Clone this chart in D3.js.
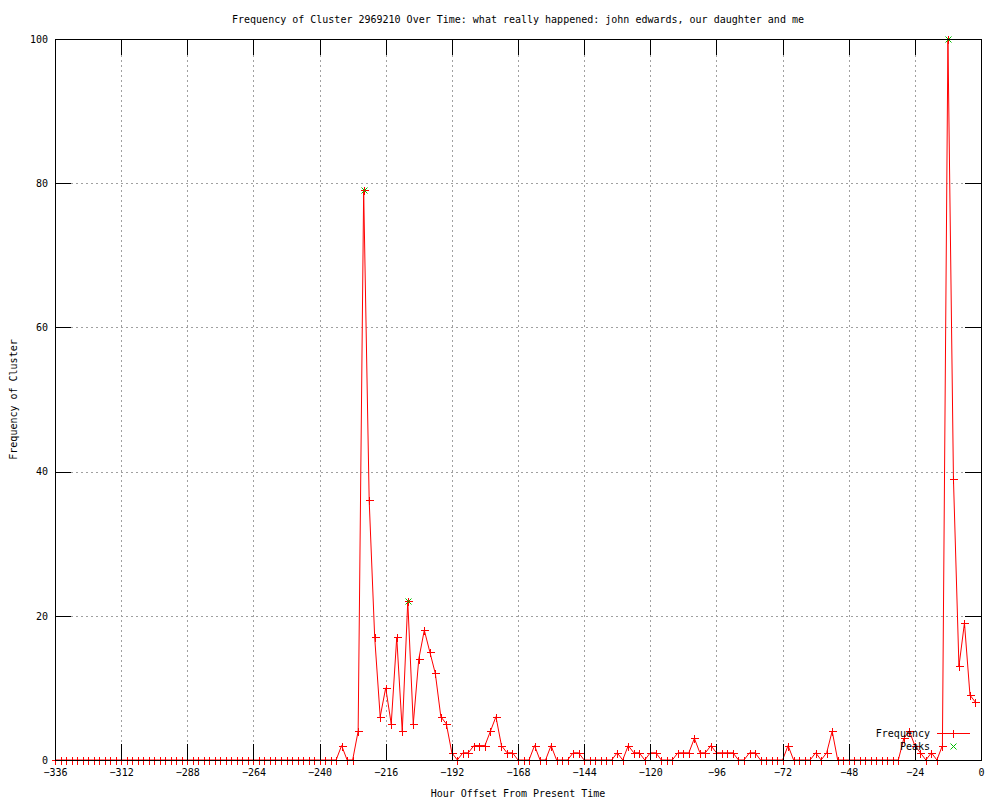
<!DOCTYPE html>
<html>
<head>
<meta charset="utf-8">
<script src="https://cdn.jsdelivr.net/npm/d3@7"></script>
<style>
  html, body { margin: 0; padding: 0; background: #fff; }
  svg text { font-family: "DejaVu Sans Mono", "Liberation Mono", monospace; font-size: 10px; fill: #000; }
</style>
</head>
<body>
<svg id="chart" width="1000" height="800"></svg>
<script>
// ---- data ----
const titleText = "Frequency of Cluster 2969210 Over Time: what really happened: john edwards, our daughter and me";
const xLabel = "Hour Offset From Present Time";
const yLabel = "Frequency of Cluster";
const xTicks = [-336, -312, -288, -264, -240, -216, -192, -168, -144, -120, -96, -72, -48, -24, 0];
const yTicks = [0, 20, 40, 60, 80, 100];
const hours = d3.range(-336, 0, 2);
const frequency = [
  0,0,0,0,0,0,0,0,0,0, 0,0,0,0,0,0,0,0,0,0,
  0,0,0,0,0,0,0,0,0,0, 0,0,0,0,0,0,0,0,0,0,
  0,0,0,0,0,0,0,0,0,0, 0,0,
  2,0,0,4,79,36,17,6,10,5,17,4,22,5,14,18,15,12,6,5,1,0,
  1,1,2,2,2,4,6,2,1,1,0,0,0,2,0,0,2,0,0,0,1,1,
  0,0,0,0,0,0,1,0,2,1,1,0,1,1,0,0,0,1,1,1,3,1,
  1,2,1,1,1,1,0,0,1,1,0,0,0,0,0,2,0,0,0,0,1,0,
  1,4,0,0,0,0,0,0,0,0,0,0,0,0,3,4,2,1,0,1,0,2,
  100,39,13,19,9,8
];
const peakHours = [-224, -208, -12];
const peakValues = [79, 22, 100];
const seriesNames = ["Frequency", "Peaks"];

// ---- layout ----
const L = 55, R = 981, T = 39, B = 760;
const red = "#ff0000", green = "#00c000", gridCol = "#a0a0a0";
const tickLen = 16;

const svg = d3.select("#chart");
const x = d3.scaleLinear().domain([-336, 0]).range([L, R]);
const y = d3.scaleLinear().domain([0, 100]).range([B, T]);

// grid
const grid = svg.append("g").attr("stroke", gridCol).attr("stroke-width", 1).attr("stroke-dasharray", "2,3").attr("shape-rendering", "crispEdges");
xTicks.filter(t => t !== -336 && t !== 0).forEach(t => {
  grid.append("line").attr("x1", Math.round(x(t)) + 0.5).attr("x2", Math.round(x(t)) + 0.5)
    .attr("y1", T + tickLen).attr("y2", B - tickLen);
});
yTicks.filter(t => t !== 0 && t !== 100).forEach(t => {
  grid.append("line").attr("y1", Math.round(y(t)) + 0.5).attr("y2", Math.round(y(t)) + 0.5)
    .attr("x1", L + tickLen).attr("x2", R - tickLen);
});

// axes (ticks mirrored, labels on bottom/left)
const xAxisB = d3.axisBottom(x).tickValues(xTicks).tickSize(-tickLen).tickPadding(9).tickFormat(d3.format("d"));
const xAxisT = d3.axisTop(x).tickValues(xTicks).tickSize(-tickLen).tickFormat("");
const yAxisL = d3.axisLeft(y).tickValues(yTicks).tickSize(-tickLen).tickPadding(7).tickFormat(d3.format("d"));
const yAxisR = d3.axisRight(y).tickValues(yTicks).tickSize(-tickLen).tickFormat("");

function styleAxis(g) {
  g.select(".domain").remove();
  g.selectAll(".tick line").attr("stroke", "#000").attr("shape-rendering", "crispEdges");
  g.selectAll(".tick text").attr("font-family", "DejaVu Sans Mono").attr("font-size", 10).attr("fill", "#000");
}

// data line
const line = d3.line().x((d, i) => x(hours[i])).y(d => y(d));
svg.append("path").datum(frequency).attr("d", line).attr("fill", "none").attr("stroke", red).attr("stroke-width", 1);

// frequency markers (+)
const plusSize = 4;
const pts = svg.append("g").attr("stroke", red).attr("stroke-width", 1).attr("shape-rendering", "crispEdges");
frequency.forEach((v, i) => {
  const cx = Math.round(x(hours[i])) + 0.5, cy = Math.round(y(v)) + 0.5;
  pts.append("path").attr("d", `M${cx - plusSize},${cy}H${cx + plusSize}M${cx},${cy - plusSize}V${cy + plusSize}`);
});

// peak markers (x)
const xs = 3;
const pk = svg.append("g").attr("stroke", green).attr("stroke-width", 1);
peakValues.forEach((v, i) => {
  const cx = Math.round(x(peakHours[i])) + 0.5, cy = Math.round(y(v)) + 0.5;
  pk.append("path").attr("d", `M${cx - xs},${cy - xs}L${cx + xs},${cy + xs}M${cx - xs},${cy + xs}L${cx + xs},${cy - xs}`);
});

// axes & border
svg.append("g").attr("transform", `translate(0,${B})`).call(xAxisB).call(styleAxis);
svg.append("g").attr("transform", `translate(0,${T})`).call(xAxisT).call(styleAxis);
svg.append("g").attr("transform", `translate(${L},0)`).call(yAxisL).call(styleAxis);
svg.append("g").attr("transform", `translate(${R},0)`).call(yAxisR).call(styleAxis);
svg.append("rect").attr("x", L + 0.5).attr("y", T + 0.5).attr("width", R - L).attr("height", B - T)
  .attr("fill", "none").attr("stroke", "#000").attr("stroke-width", 1).attr("shape-rendering", "crispEdges");

// legend
const lg = svg.append("g");
const legY = [733, 746];
const sx1 = 937, sx2 = 970, smid = 953;
lg.append("text").attr("x", 930).attr("y", legY[0]).attr("dy", "0.35em").attr("text-anchor", "end").text(seriesNames[0]);
lg.append("text").attr("x", 930).attr("y", legY[1]).attr("dy", "0.35em").attr("text-anchor", "end").text(seriesNames[1]);
lg.append("path").attr("d", `M${sx1},${legY[0] + 0.5}H${sx2}M${smid + 0.5},${legY[0] - plusSize + 0.5}V${legY[0] + plusSize + 0.5}`)
  .attr("fill", "none").attr("stroke", red).attr("stroke-width", 1).attr("shape-rendering", "crispEdges");
lg.append("path").attr("d", `M${smid + 0.5 - xs},${legY[1] + 0.5 - xs}L${smid + 0.5 + xs},${legY[1] + 0.5 + xs}M${smid + 0.5 - xs},${legY[1] + 0.5 + xs}L${smid + 0.5 + xs},${legY[1] + 0.5 - xs}`)
  .attr("fill", "none").attr("stroke", green).attr("stroke-width", 1);

// titles
svg.append("text").attr("x", (L + R) / 2).attr("y", 19).attr("dy", "0.35em").attr("text-anchor", "middle").text(titleText);
svg.append("text").attr("x", (L + R) / 2).attr("y", 793).attr("dy", "0.35em").attr("text-anchor", "middle").text(xLabel);
svg.append("text").attr("transform", `translate(13,${(T + B) / 2}) rotate(-90)`).attr("dy", "0.35em").attr("text-anchor", "middle").text(yLabel);
</script>
</body>
</html>
